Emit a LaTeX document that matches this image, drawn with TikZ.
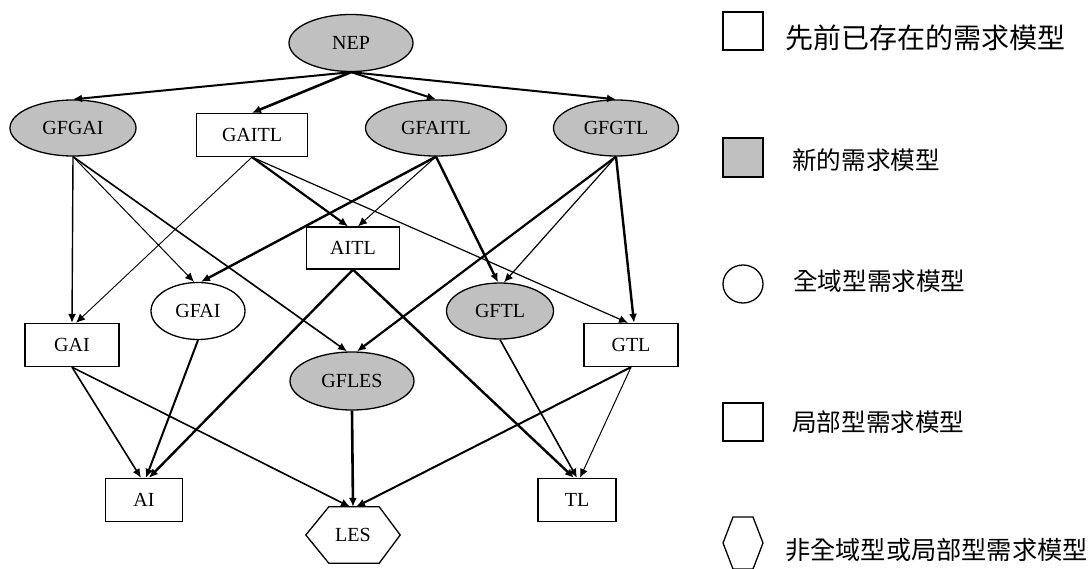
\documentclass[tikz,border=0pt]{standalone}
\usepackage{fontspec}
\setmainfont{Liberation Serif}
\newfontfamily\cjk{Noto Sans CJK TC}
\usetikzlibrary{shapes.geometric,arrows.meta}
\definecolor{nodegray}{HTML}{C0C0C0}
\begin{document}
\begin{tikzpicture}[x=1pt,y=-1pt,
  lbl/.style={font=\fontsize{20}{22}\selectfont, inner sep=0pt},
  ell/.style={lbl, ellipse, draw, line width=1.3pt},
  newell/.style={ell, fill=nodegray},
  box/.style={lbl, rectangle, draw, line width=1.3pt},
  edge/.style={-{Latex[length=9pt,width=8pt]}, line width=#1},
  edge/.default=1.4pt,
  legtext/.style={anchor=west, inner sep=0pt, font=\cjk\fontsize{24.6}{26}\selectfont}
]
\useasboundingbox (0,0) rectangle (1090,569);

% nodes
\node[newell, minimum width=124, minimum height=57] (NEP) at (351,43) {NEP};
\node[newell, minimum width=126, minimum height=56] (GFGAI) at (73,128) {GFGAI};
\node[box, minimum width=111, minimum height=43] (GAITL) at (252,135) {GAITL};
\node[newell, minimum width=141, minimum height=56] (GFAITL) at (436,128) {GFAITL};
\node[newell, minimum width=125, minimum height=56] (GFGTL) at (616,128) {GFGTL};
\node[box, minimum width=93, minimum height=42] (AITL) at (353,248) {AITL};
\node[ell, minimum width=94, minimum height=57] (GFAI) at (198,311) {GFAI};
\node[newell, minimum width=107, minimum height=56] (GFTL) at (500,311) {GFTL};
\node[box, minimum width=94, minimum height=43] (GAI) at (72,345) {GAI};
\node[box, minimum width=94, minimum height=43] (GTL) at (631,345) {GTL};
\node[newell, minimum width=124, minimum height=58] (GFLES) at (352,381) {GFLES};
\node[box, minimum width=77, minimum height=43] (AI) at (144,500) {AI};
\node[lbl, rectangle, minimum width=94, minimum height=56] (LES) at (353,535) {LES};
\draw[line width=1.3pt] ([xshift=23]LES.north west) -- ([xshift=-21]LES.north east)
  -- (LES.east) -- ([xshift=-21]LES.south east) -- ([xshift=23]LES.south west)
  -- (LES.west) -- cycle;
\node[box, minimum width=78, minimum height=43] (TL) at (577,500) {TL};

% edges from NEP
\draw[edge=2.0pt] (NEP.south) -- (GFGAI.north);
\draw[edge=2.6pt] (NEP.south) -- (GAITL.north);
\draw[edge=2.0pt] (NEP.south) -- (GFAITL.north);
\draw[edge=2.0pt] (NEP.south) -- (GFGTL.north);

% from GFGAI
\draw[edge=1.4pt] (GFGAI.south) -- (GAI.north);
\draw[edge=1.0pt] (GFGAI.south) -- ([xshift=-4]GFAI.north);
\draw[edge=1.6pt] (GFGAI.south) -- ([xshift=-5]GFLES.north);

% from GAITL
\draw[edge=0.9pt] (GAITL.south) -- ([xshift=4]GAI.north);
\draw[edge=2.2pt] (GAITL.south) -- ([xshift=-5]AITL.north);
\draw[edge=1.2pt] (GAITL.south) -- ([xshift=-3]GTL.north);

% from GFAITL
\draw[edge=2.4pt] (GFAITL.south) -- ([xshift=3]GFAI.north);
\draw[edge=1.0pt] (GFAITL.south) -- ([xshift=5]AITL.north);
\draw[edge=2.4pt] (GFAITL.south) -- ([xshift=-2]GFTL.north);

% from GFGTL
\draw[edge=2.2pt] (GFGTL.south) -- ([xshift=5]GFLES.north);
\draw[edge=1.2pt] (GFGTL.south) -- ([xshift=4]GFTL.north);
\draw[edge=2.4pt] (GFGTL.south) -- ([xshift=3]GTL.north);

% from AITL
\draw[edge=2.4pt] (AITL.south) -- ([xshift=5]AI.north);
\draw[edge=2.4pt] (AITL.south) -- ([xshift=-3]TL.north);

% from GFAI
\draw[edge=2.0pt] (GFAI.south) -- ([xshift=2]AI.north);

% from GAI
\draw[edge=1.6pt] (GAI.south) -- ([xshift=-3]AI.north);
\draw[edge=1.6pt] (GAI.south) -- ([xshift=-3]LES.north);

% from GFTL
\draw[edge=1.6pt] (GFTL.south) -- (TL.north);

% from GTL
\draw[edge=1.0pt] (GTL.south) -- ([xshift=3]TL.north);
\draw[edge=2.0pt] (GTL.south) -- ([xshift=3]LES.north);

% from GFLES
\draw[edge=2.6pt] (GFLES.south) -- (LES.north);

% legend
\draw[line width=1.3pt] (723,12) rectangle (763,50);
\node[legtext, font=\cjk\fontsize{28}{30}\selectfont] (lg1) at (785,38) {先前已存在的需求模型};
\draw[line width=1.3pt, fill=nodegray] (723,138) rectangle (763,177);
\node[legtext] (lg2) at (792,160) {新的需求模型};
\draw[line width=1.3pt] (743,284) ellipse [x radius=20, y radius=19];
\node[legtext] (lg3) at (793,281) {全域型需求模型};
\draw[line width=1.3pt] (723,403) rectangle (763,441);
\node[legtext] (lg4) at (792,422) {局部型需求模型};
\draw[line width=1.3pt] (733,517) -- (753,517) -- (763,543) -- (753,569) -- (733,569) -- (723,543) -- cycle;
\node[legtext, font=\cjk\fontsize{25.2}{27}\selectfont] (lg5) at (785,550) {非全域型或局部型需求模型};
\end{tikzpicture}
\end{document}
